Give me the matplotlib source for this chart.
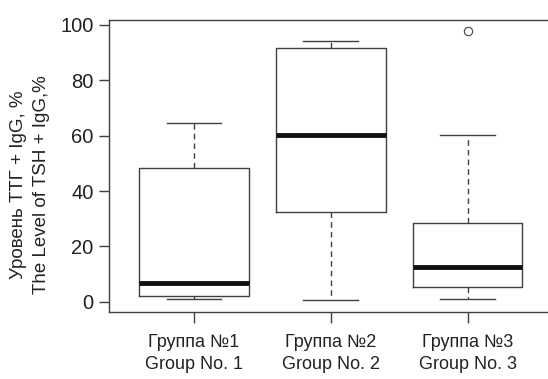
import matplotlib
matplotlib.use("Agg")
import matplotlib.pyplot as plt

categories = ["Группа №1\nGroup No. 1", "Группа №2\nGroup No. 2", "Группа №3\nGroup No. 3"]
whislo = [1.0, 0.6, 1.0]
q1 = [1.95, 32.5, 5.2]
med = [6.65, 60.3, 12.7]
q3 = [48.2, 91.8, 28.3]
whishi = [64.5, 94.1, 60.3]
fliers = [[], [], [97.8]]
yticks = [0, 20, 40, 60, 80, 100]
ylabel = "Уровень ТТГ + IgG, %\nThe Level of TSH + IgG,%"

FONT = ["Liberation Sans Narrow", "Liberation Sans", "DejaVu Sans"]
plt.rcParams['font.family'] = FONT

W, H = 548, 379
fig = plt.figure(figsize=(W / 100, H / 100), dpi=100)
L, R, T, B = 109, 552.7, 20, 312
ax = fig.add_axes([L / W, (H - B) / H, (R - L) / W, (B - T) / H])

stats = []
for i in range(len(categories)):
    stats.append(dict(whislo=whislo[i], q1=q1[i], med=med[i], q3=q3[i],
                      whishi=whishi[i], fliers=fliers[i]))

col = "#404040"
ax.bxp(stats, positions=[1, 2, 3], widths=0.8, showfliers=True,
       boxprops=dict(color=col, linewidth=1.0),
       whiskerprops=dict(color=col, linewidth=1.0, linestyle=(0, (4, 3))),
       capprops=dict(color=col, linewidth=1.0),
       medianprops=dict(color="#111111", linewidth=3.5, solid_capstyle="butt"),
       flierprops=dict(marker="o", markerfacecolor="none", markeredgecolor=col,
                       markersize=6, markeredgewidth=0.8),
       capwidths=0.4)

ax.set_xlim(0.379, 3.621)
ax.set_ylim(-3.7, 101.8)
ax.set_yticks(yticks)
ax.set_yticklabels([str(v) for v in yticks])
ax.set_xticks([1, 2, 3])
ax.set_xticklabels(categories, linespacing=1.4)

for s in ax.spines.values():
    s.set_color(col)
    s.set_linewidth(1.0)

ax.tick_params(axis="y", length=7, width=1.0, color=col, pad=4, labelsize=14.5, labelcolor="#222222")
ax.tick_params(axis="x", length=8, width=1.0, color=col, pad=8, labelsize=13, labelcolor="#222222")

fig.text(30 / W, 1 - 185 / H, ylabel, rotation=90, ha="center", va="center",
         fontsize=13.5, color="#222222", linespacing=1.4, multialignment="center")

fig.savefig("out.png", dpi=100)
